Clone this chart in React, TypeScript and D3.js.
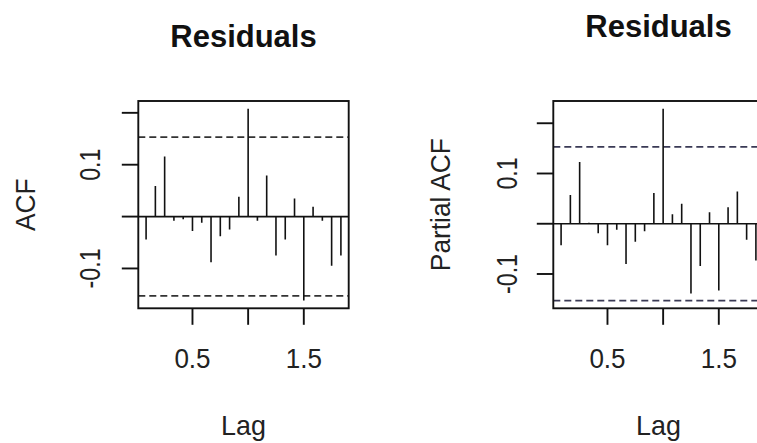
import React, { useRef, useEffect } from "react";
import * as d3 from "d3";

// lag index (months), shown on the axis in years (frequency 12)
const lagIndex = [1, 2, 3, 4, 5, 6, 7, 8, 9, 10, 11, 12, 13, 14, 15, 16, 17, 18, 19, 20, 21, 22];
const frequency = 12;

const acfValues = [
  -0.044, 0.059, 0.116, -0.008, -0.005, -0.028, -0.012, -0.088, -0.038, -0.025, 0.038,
  0.208, -0.008, 0.079, -0.075, -0.044, 0.035, -0.162, 0.019, -0.008, -0.095, -0.075,
];

const pacfValues = [
  -0.043, 0.057, 0.123, 0.002, -0.019, -0.043, -0.012, -0.08, -0.036, -0.015, 0.061,
  0.229, 0.019, 0.04, -0.139, -0.084, 0.023, -0.133, 0.033, 0.064, -0.032, -0.073,
];

const confLimit = 0.153;
const yTicks = [-0.1, 0, 0.1, 0.2];
const yTickLabels = ["-0.1", "", "0.1", ""];
const xTicks = [0.5, 1.0, 1.5];
const xTickLabels = ["0.5", "", "1.5"];

const FONT = "'Liberation Sans', Arial, Helvetica, sans-serif";

const App = () => {
  const chartRef = useRef<SVGSVGElement>(null);

  useEffect(() => {
    const svg = d3.select(chartRef.current);
    svg.selectAll("*").remove();

    const width = 757;
    const height = 443;
    svg.attr("width", width).attr("height", height);

    const lags = lagIndex.map((k) => k / frequency);

    const drawPanel = (opts) => {
      const { values, left, right, top, bottom, title, titleY, yLabel, yLabelX, tickLabelX, ciColor } = opts;
      const g = svg.append("g");

      // R style: pad data range by 4%
      const xExt = d3.extent(lags);
      const xPad = (xExt[1] - xExt[0]) * 0.04;
      const x = d3.scaleLinear().domain([xExt[0] - xPad, xExt[1] + xPad]).range([left, right]);

      const yMin = Math.min(-confLimit, d3.min(values));
      const yMax = Math.max(confLimit, d3.max(values));
      const yPad = (yMax - yMin) * 0.04;
      const y = d3.scaleLinear().domain([yMin - yPad, yMax + yPad]).range([bottom, top]);

      const clipId = `clip-${left}`;
      svg.append("clipPath").attr("id", clipId)
        .append("rect").attr("x", left).attr("y", top).attr("width", right - left).attr("height", bottom - top);

      const plot = g.append("g").attr("clip-path", `url(#${clipId})`);

      // zero line
      plot.append("line")
        .attr("x1", left).attr("x2", right)
        .attr("y1", y(0)).attr("y2", y(0))
        .attr("stroke", "#111").attr("stroke-width", 1.6);

      // confidence limits
      [confLimit, -confLimit].forEach((c) => {
        plot.append("line")
          .attr("x1", left).attr("x2", right)
          .attr("y1", y(c)).attr("y2", y(c))
          .attr("stroke", ciColor)
          .attr("stroke-width", 1.7)
          .attr("stroke-dasharray", "7,4");
      });

      // spikes
      plot.selectAll("line.spike")
        .data(values)
        .enter()
        .append("line")
        .attr("class", "spike")
        .attr("x1", (d, i) => x(lags[i]))
        .attr("x2", (d, i) => x(lags[i]))
        .attr("y1", y(0))
        .attr("y2", (d) => y(d))
        .attr("stroke", "#111")
        .attr("stroke-width", 1.6);

      // box
      g.append("rect")
        .attr("x", left).attr("y", top)
        .attr("width", right - left).attr("height", bottom - top)
        .attr("fill", "none").attr("stroke", "#111").attr("stroke-width", 1.9);

      // y ticks
      const tickLen = 16.5;
      g.selectAll("line.ytick")
        .data(yTicks)
        .enter()
        .append("line")
        .attr("x1", left - tickLen).attr("x2", left)
        .attr("y1", (d) => y(d)).attr("y2", (d) => y(d))
        .attr("stroke", "#111").attr("stroke-width", 1.9);

      // tick labels in the source look narrow and tall, so squeeze along the text
      g.selectAll("text.ytick")
        .data(yTicks)
        .enter()
        .append("text")
        .attr("transform", (d) => `translate(${tickLabelX},${y(d)}) rotate(-90) scale(0.8,1)`)
        .attr("text-anchor", "middle")
        .style("font-family", FONT)
        .style("font-size", "29px")
        .style("fill", "#222")
        .text((d, i) => yTickLabels[i]);

      // x ticks
      g.selectAll("line.xtick")
        .data(xTicks)
        .enter()
        .append("line")
        .attr("x1", (d) => x(d)).attr("x2", (d) => x(d))
        .attr("y1", bottom).attr("y2", bottom + tickLen)
        .attr("stroke", "#111").attr("stroke-width", 1.9);

      g.selectAll("text.xtick")
        .data(xTicks)
        .enter()
        .append("text")
        .attr("transform", (d) => `translate(${x(d)},368) scale(0.93,1)`)
        .attr("text-anchor", "middle")
        .style("font-family", FONT)
        .style("font-size", "28px")
        .style("fill", "#222")
        .text((d, i) => xTickLabels[i]);

      // axis titles
      g.append("text")
        .attr("transform", `translate(${(left + right) / 2},435) scale(0.96,1)`)
        .attr("text-anchor", "middle")
        .style("font-family", FONT)
        .style("font-size", "28px")
        .style("fill", "#222")
        .text("Lag");

      g.append("text")
        .attr("transform", `translate(${yLabelX},${(top + bottom) / 2}) rotate(-90) scale(0.94,1)`)
        .attr("text-anchor", "middle")
        .style("font-family", FONT)
        .style("font-size", "28px")
        .style("fill", "#222")
        .text(yLabel);

      g.append("text")
        .attr("x", (left + right) / 2)
        .attr("y", titleY)
        .attr("text-anchor", "middle")
        .style("font-family", FONT)
        .style("font-size", "31px")
        .style("font-weight", "bold")
        .style("fill", "#111")
        .text(title);
    };

    drawPanel({
      values: acfValues,
      left: 138.3, right: 348.7, top: 101, bottom: 308.3,
      title: "Residuals", titleY: 47, yLabel: "ACF", yLabelX: 35, tickLabelX: 100,
      ciColor: "#333",
    });

    drawPanel({
      values: pacfValues,
      left: 553.3, right: 763.7, top: 101, bottom: 308.3,
      title: "Residuals", titleY: 37, yLabel: "Partial ACF", yLabelX: 450, tickLabelX: 517,
      ciColor: "#3a3a55",
    });
  }, []);

  return (
    <svg
      ref={chartRef}
      style={{ position: "absolute", left: 0, top: 0, display: "block", background: "#fff" }}
    ></svg>
  );
};

export default App;
